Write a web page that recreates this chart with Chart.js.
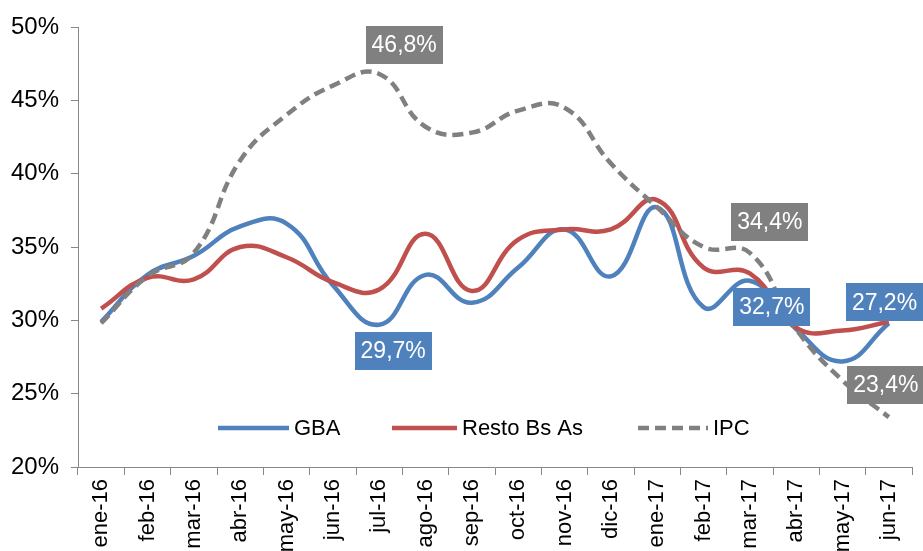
<!DOCTYPE html>
<html>
<head>
<meta charset="utf-8">
<script src="https://cdn.jsdelivr.net/npm/chart.js@4"></script>
<style>
html,body{margin:0;padding:0;background:#fff;}
#wrap{width:923px;height:551px;position:relative;}
</style>
</head>
<body>
<div id="wrap"><canvas id="c" width="923" height="551"></canvas></div>
<script>
const categories = ['ene-16','feb-16','mar-16','abr-16','may-16','jun-16','jul-16','ago-16','sep-16','oct-16','nov-16','dic-16','ene-17','feb-17','mar-17','abr-17','may-17','jun-17'];
const gba   = [29.9, 33.1, 34.4, 36.4, 36.6, 32.4, 29.7, 33.1, 31.2, 33.6, 36.2, 33.0, 37.7, 30.9, 32.7, 29.4, 27.2, 29.8];
const resto = [30.8, 32.9, 32.8, 35.0, 34.3, 32.6, 32.1, 35.9, 32.0, 35.5, 36.2, 36.2, 38.2, 33.6, 33.2, 29.5, 29.3, 29.9];
const ipc   = [29.8, 33.0, 34.6, 40.9, 44.0, 46.0, 46.8, 43.2, 42.8, 44.3, 44.5, 40.7, 37.7, 35.0, 34.6, 29.4, 25.9, 23.4];
const yTicks = [20, 25, 30, 35, 40, 45, 50];

const BLUE = '#4F81BD', RED = '#C0504D', GRAY = '#808080';

// data labels: dataset index, point index, text, box offset from point (px)
const dataLabels = [
  {ds: 2, i: 6,  text: '46,8%', dx: 25, dy: -29, bg: GRAY},
  {ds: 2, i: 14, text: '34,4%', dx: 20, dy: -31, bg: GRAY},
  {ds: 2, i: 17, text: '23,4%', dx: -3, dy: -32, bg: GRAY},
  {ds: 0, i: 6,  text: '29,7%', dx: 14, dy: 26, bg: BLUE},
  {ds: 0, i: 14, text: '32,7%', dx: 22, dy: 26, bg: BLUE},
  {ds: 0, i: 16, text: '27,2%', dx: 42, dy: -59, bg: BLUE}
];

const labelPlugin = {
  id: 'boxLabels',
  afterDatasetsDraw(chart) {
    const ctx = chart.ctx;
    ctx.save();
    ctx.font = '23px "Liberation Sans", Arial, sans-serif';
    ctx.textAlign = 'center';
    ctx.textBaseline = 'middle';
    dataLabels.forEach(l => {
      const p = chart.getDatasetMeta(l.ds).data[l.i];
      const cx = p.x + l.dx, cy = p.y + l.dy;
      const w = ctx.measureText(l.text).width + 12, h = 38;
      ctx.fillStyle = l.bg;
      ctx.fillRect(Math.round(cx - w/2), Math.round(cy - h/2), Math.round(w), h);
      ctx.fillStyle = '#fff';
      ctx.fillText(l.text, cx, cy + 1);
    });
    ctx.restore();
  }
};

const legendItems = [
  {ds: 0, x1: 218, x2: 289},
  {ds: 1, x1: 392, x2: 457},
  {ds: 2, x1: 638, x2: 708}
];
const legendPlugin = {
  id: 'innerLegend',
  afterDatasetsDraw(chart) {
    const ctx = chart.ctx;
    const y = 428;
    ctx.save();
    ctx.font = '22px "Liberation Sans", Arial, sans-serif';
    ctx.textBaseline = 'middle';
    ctx.textAlign = 'left';
    legendItems.forEach(it => {
      const d = chart.data.datasets[it.ds];
      ctx.strokeStyle = d.borderColor;
      ctx.lineWidth = d.borderWidth;
      ctx.setLineDash(d.borderDash || []);
      ctx.lineCap = 'butt';
      ctx.beginPath();
      ctx.moveTo(it.x1, y);
      ctx.lineTo(it.x2, y);
      ctx.stroke();
      ctx.setLineDash([]);
      ctx.fillStyle = '#000';
      ctx.fillText(d.label, it.x2 + 5, y + 1);
    });
    ctx.restore();
  }
};

new Chart(document.getElementById('c'), {
  type: 'line',
  data: {
    labels: categories,
    datasets: [
      {label: 'GBA', data: gba, borderColor: BLUE, borderWidth: 4.5, tension: 0.45, pointRadius: 0, order: 3},
      {label: 'Resto Bs As', data: resto, borderColor: RED, borderWidth: 4.5, tension: 0.45, pointRadius: 0, order: 2},
      {label: 'IPC', data: ipc, borderColor: GRAY, borderWidth: 4.5, borderDash: [11, 6], tension: 0.45, pointRadius: 0, order: 1}
    ]
  },
  options: {
    responsive: false,
    animation: false,
    layout: {padding: {top: 27, right: 11, left: 0, bottom: 0}},
    plugins: {legend: {display: false}, tooltip: {enabled: false}},
    scales: {
      x: {
        offset: true,
        grid: {offset: true, drawOnChartArea: false, color: '#888', tickLength: 8, tickColor: '#888'},
        border: {color: '#888', width: 1},
        ticks: {
          color: '#000', minRotation: 90, maxRotation: 90, padding: 4, autoSkip: false,
          font: {family: '"Liberation Sans", Arial, sans-serif', size: 22}
        },
        afterFit(s) { s.height = 84; }
      },
      y: {
        min: 20, max: 50,
        afterBuildTicks(s) { s.ticks = yTicks.map(v => ({value: v})); },
        grid: {drawOnChartArea: false, color: '#888', tickLength: 7, tickColor: '#888'},
        border: {color: '#888', width: 1},
        ticks: {
          color: '#000', padding: 12,
          font: {family: '"Liberation Sans", Arial, sans-serif', size: 24},
          callback: v => v + '%'
        },
        afterFit(s) { s.width = 78; }
      }
    }
  },
  plugins: [labelPlugin, legendPlugin]
});
</script>
</body>
</html>
